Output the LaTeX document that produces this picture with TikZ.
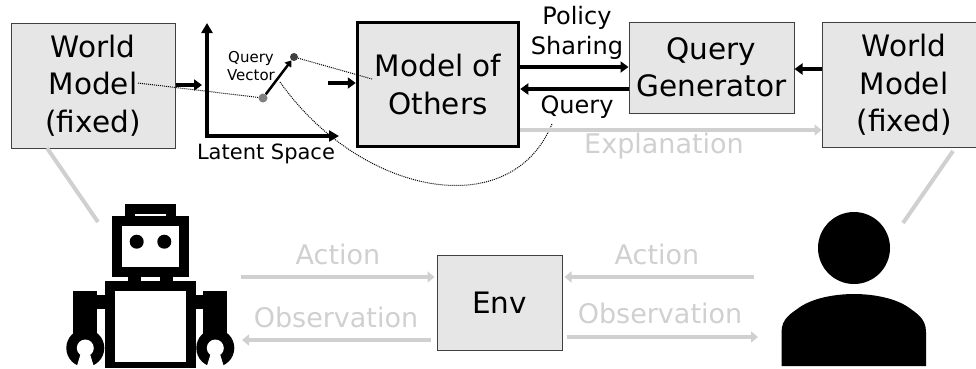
\documentclass[tikz,border=0pt]{standalone}
\usepackage{fontspec}
\setmainfont{DejaVu Sans}
\usetikzlibrary{arrows.meta}
\definecolor{boxgray}{HTML}{E6E6E6}
\definecolor{lightline}{HTML}{D0D0D0}
\tikzset{
box/.style={draw=black!75, line width=1pt, fill=boxgray, inner sep=0pt, align=center, font=\fontsize{29.5}{37.5}\selectfont},
heavy/.style={line width=1.6mm*0.8, -{Triangle[length=8pt,width=11pt]}},
graytip/.style={draw=lightline, line width=4pt, -{Triangle[length=7pt,width=11pt]}},
graytext/.style={text=lightline, inner sep=0pt, font=\fontsize{27}{30}\selectfont},
label/.style={inner sep=0pt, align=center, font=\fontsize{24}{30}\selectfont},
thin dots/.style={densely dotted, line width=1pt},
}
\begin{document}
\begin{tikzpicture}[x=1pt,y=-1pt]
\useasboundingbox (0,0) rectangle (976,368);
\clip (0,0) rectangle (976,368);
% boxes
\node[box, minimum width=164pt, minimum height=125pt] (worldl) at (93,85.5) {World\\Model\\(fixed)};
\node[box, minimum width=164pt, minimum height=125pt] (worldr) at (904,85) {World\\Model\\(fixed)};
\node[box, line width=3.5pt, draw=black, minimum width=161pt, minimum height=124pt] (others) at (438,84.5) {Model of\\Others};
\node[box, minimum width=165pt, minimum height=91pt] (querygen) at (711.5,67.5) {Query\\Generator};
\node[box, minimum width=125pt, minimum height=95pt] (env) at (499.5,302.5) {Env};
% latent space
\coordinate (origin) at (207,136);
\coordinate (axisy) at (207,23);
\coordinate (axisx) at (339,136);
\draw[line width=3.5pt, {Triangle[length=10pt,width=11pt]}-{Triangle[length=10pt,width=11pt]}, line join=miter] (axisy) -- (origin) -- (axisx);
\node[circle, fill=black!50, minimum size=9pt, inner sep=0pt] (vecl) at (263,98) {};
\node[circle, fill=black!75, minimum size=8pt, inner sep=0pt] (vecr) at (294,57) {};
\draw[line width=2.5pt, -{Triangle[length=6pt,width=8pt]}] (vecl) -- (vecr);
\node[label, font=\fontsize{15}{18}\selectfont] (vectext) at (251,66) {Query\\Vector};
\node[label, font=\fontsize{21}{30}\selectfont] (latent) at (266,154) {Latent Space};
% black arrows
\coordinate (inl) at (202,85);
\coordinate (inm) at (328,83);
\draw[heavy] (worldl.east |- inl) -- (inl);
\draw[heavy] (inm) -- (others.west |- inm);
\draw[heavy] (others.east |- 0,67) -- (querygen.west |- 0,67);
\draw[heavy] (querygen.west |- 0,89) -- (others.east |- 0,89);
\draw[heavy] (worldr.west |- 0,69) -- (querygen.east |- 0,69);
\node[label] (policy) at (577,33) {Policy\\Sharing};
\node[label] (query) at (577,107) {Query};
% dotted links
\coordinate (worldtext) at (138,83);
\coordinate (othertext) at (372,79);
\coordinate (vectail) at (280,82);
\coordinate (querytail) at (552,124);
\draw[thin dots] (worldtext) -- (vecl);
\draw[thin dots] (vecr) -- (othertext);
\draw[thin dots] (vectail) .. controls (360,195) and (510,225) .. (querytail);
% gray arrows
\coordinate (explain) at (664,130);
\draw[graytip] (others.east |- explain) -- (worldr.west |- explain);
\node[graytext] (explaintext) at (664,146) {Explanation};
\coordinate (leftbottom) at (98,222);
\coordinate (rightbottom) at (903,223);
\draw[lightline, line width=4pt] (47,148) -- (leftbottom);
\draw[lightline, line width=4pt] (953,151) -- (rightbottom);
\foreach \x/\w [count=\n] in {241/env.west, 754/env.east} {
\coordinate (act\n) at (\x,277);
\draw[graytip] (act\n) -- ([xshift=\n*4pt-6pt]\w |- act\n);
}
\coordinate (obsl) at (242,340);
\coordinate (obsr) at (758,337);
\draw[graytip] ([xshift=-6pt]env.west |- obsl) -- (obsl);
\draw[graytip] ([xshift=4pt]env.east |- obsr) -- (obsr);
\node[graytext] (actl) at (338,254) {Action};
\node[graytext] (actr) at (657,254) {Action};
\node[graytext] (obslt) at (336,317) {Observation};
\node[graytext] (obsrt) at (660,313) {Observation};
% robot
\fill (125,204) rectangle (175.7,216);
\fill[white] (135,213.5) rectangle (166,216);
\fill (111.7,216) rectangle (189.3,277);
\fill[white] (121.7,226) rectangle (179.3,267);
\foreach \x in {136.7,164.3} {
\fill (\x,241.7) circle (7pt);
}
\foreach \x in {127.7,160} {
\fill (\x,277) rectangle ++(13.3,4);
}
\fill (105,281) rectangle (195.7,368);
\fill[white] (115.3,291) rectangle (185.7,362.3);
\foreach \x/\a in {73.3/96.7, 203.3/195.7} {
\fill (\x,291) rectangle ++(24,44);
\fill (\a,295) rectangle ++(8.3,14);
\fill (\x+12,348) circle (19pt);
\fill[white] (\x+12,348) circle (8.5pt);
\fill[white] (\x+7,355) -- (\x+17,355) -- (\x+21,368) -- (\x+3,368) -- cycle;
}
% person
\fill (854,248) ellipse [x radius=36, y radius=36];
\fill (781.5,366) -- (781.5,332) .. controls (781.5,318) and (792,313) .. (800,307) .. controls (815,297) and (838,294) .. (854,294) .. controls (870,294) and (893,297) .. (908,307) .. controls (916,313) and (926,318) .. (926,332) -- (926,366) -- cycle;
\end{tikzpicture}
\end{document}
